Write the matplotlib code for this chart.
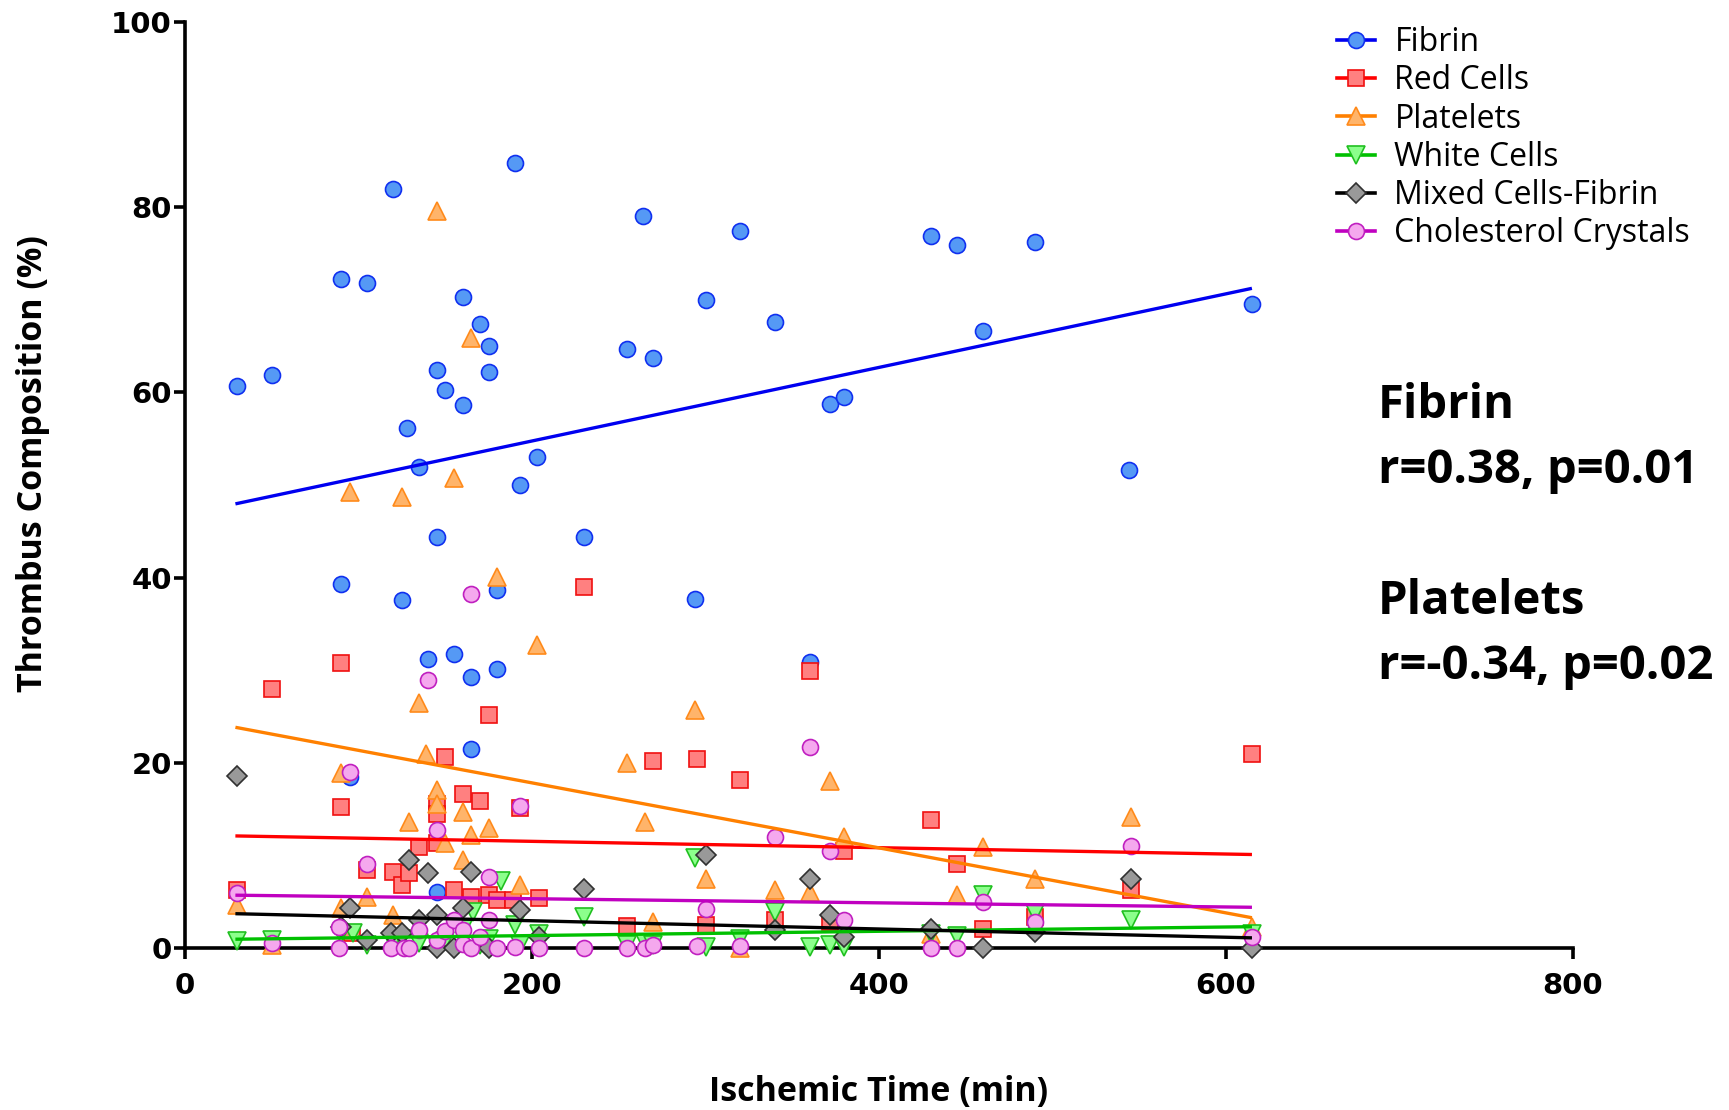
import matplotlib
matplotlib.use("Agg")
import matplotlib.pyplot as plt
from matplotlib.lines import Line2D

# ---------------- data ----------------
fibrin_x = [30, 50, 90, 90, 95, 105, 120, 125, 128, 135, 140, 145, 145, 145, 150, 155, 160, 160,
            165, 165, 170, 175, 175, 180, 180, 190, 193, 203, 230, 255, 264, 270, 294, 300, 320,
            340, 360, 372, 380, 430, 445, 460, 490, 544, 615]
fibrin_y = [60.7, 61.9, 72.2, 39.3, 18.5, 71.8, 82.0, 37.6, 56.2, 51.9, 31.2, 62.4, 44.4, 6.0,
            60.3, 31.7, 70.3, 58.6, 29.3, 21.5, 67.4, 65.0, 62.2, 38.7, 30.1, 84.8, 50.0, 53.0,
            44.4, 64.7, 79.1, 63.7, 37.7, 70.0, 77.4, 67.6, 30.9, 58.8, 59.5, 76.9, 75.9, 66.6,
            76.2, 51.6, 69.6]

red_x = [30, 50, 90, 90, 96, 105, 120, 125, 129, 135, 145, 145, 145, 150, 155, 160, 165, 170,
         175, 175, 180, 189, 193, 204, 230, 255, 270, 295, 300, 320, 340, 360, 372, 380, 430,
         445, 460, 490, 545, 615]
red_y = [6.3, 28.0, 30.8, 15.2, 1.6, 8.4, 8.2, 6.8, 8.1, 10.9, 15.6, 14.5, 11.3, 20.6, 6.3,
         16.6, 5.5, 15.9, 25.2, 5.7, 5.2, 5.2, 15.1, 5.4, 39.0, 2.4, 20.2, 20.4, 2.5, 18.1,
         3.0, 29.9, 2.8, 10.5, 13.8, 9.1, 2.1, 3.4, 6.3, 21.0]

plt_x = [30, 50, 90, 90, 95, 105, 120, 125, 129, 135, 139, 145, 145, 145, 150, 155, 160, 160,
         165, 165, 175, 180, 193, 203, 255, 265, 270, 294, 300, 320, 340, 360, 372, 380, 430,
         445, 460, 490, 545, 615]
plt_y = [4.6, 0.3, 18.9, 4.3, 49.2, 5.5, 3.6, 48.7, 13.6, 26.5, 21.0, 79.6, 17.1, 15.5, 11.3,
         50.8, 14.7, 9.5, 65.9, 12.2, 13.0, 40.1, 6.8, 32.7, 20.0, 13.6, 2.8, 25.7, 7.5, 0.0,
         6.3, 6.1, 18.0, 12.0, 1.5, 5.7, 10.9, 7.5, 14.1, 2.3]

wbc_x = [30, 50, 90, 97, 105, 120, 125, 135, 145, 150, 160, 166, 170, 175, 182, 190, 193, 204,
         230, 255, 265, 270, 294, 300, 320, 340, 360, 372, 380, 430, 445, 460, 490, 545, 615]
wbc_y = [0.8, 0.9, 1.5, 1.6, 0.3, 0.5, 1.0, 0.5, 0.3, 0.8, 2.0, 3.9, 0.3, 1.0, 7.2, 2.5, 0.3,
         1.5, 3.4, 0.3, 0.5, 0.3, 9.7, 0.1, 1.0, 3.9, 0.1, 0.3, 0.1, 1.5, 1.3, 5.7, 3.8, 3.0, 1.5]

mix_x = [30, 90, 95, 105, 119, 125, 129, 135, 140, 145, 145, 155, 160, 165, 175, 193, 204, 230,
         300, 340, 360, 372, 380, 430, 460, 490, 545, 615]
mix_y = [18.6, 2.3, 4.3, 0.9, 1.6, 1.6, 9.5, 3.0, 8.1, 3.6, 0.0, 0.0, 4.3, 8.2, 0.0, 4.1, 1.2,
         6.4, 10.0, 1.9, 7.4, 3.6, 1.2, 2.1, 0.0, 1.7, 7.4, 0.0]

chol_x = [30, 50, 89, 89, 95, 105, 119, 126, 129, 135, 140, 145, 145, 150, 155, 160, 160, 165,
          165, 170, 175, 175, 180, 190, 193, 204, 230, 255, 265, 270, 295, 300, 320, 340, 360,
          372, 380, 430, 445, 460, 490, 545, 615]
chol_y = [5.9, 0.5, 2.3, 0.0, 19.0, 9.1, 0.0, 0.0, 0.0, 1.9, 28.9, 12.7, 0.9, 1.8, 3.0, 1.9,
          0.4, 38.2, 0.0, 1.2, 7.7, 3.0, 0.0, 0.1, 15.3, 0.0, 0.0, 0.0, 0.0, 0.3, 0.2, 4.2, 0.2,
          12.0, 21.7, 10.5, 3.0, 0.0, 0.0, 5.0, 2.8, 11.0, 1.2]

# regression-line end points
fit_x = [30, 614]
fit_fibrin = [48.0, 71.2]
fit_red = [12.1, 10.1]
fit_plt = [23.8, 3.3]
fit_wbc = [0.95, 2.3]
fit_mix = [3.7, 1.1]
fit_chol = [5.7, 4.4]

labels = ["Fibrin", "Red Cells", "Platelets", "White Cells", "Mixed Cells-Fibrin",
          "Cholesterol Crystals"]

# ---------------- styling ----------------
series = [
    (fibrin_x, fibrin_y, fit_fibrin, "o", "#5599F5", "#1030F0", "#0000F0", 11.5),
    (red_x, red_y, fit_red, "s", "#FF8080", "#F01010", "#FF0000", 11.0),
    (plt_x, plt_y, fit_plt, "^", "#FFB46A", "#FF8A1A", "#FF8000", 12.5),
    (wbc_x, wbc_y, fit_wbc, "v", "#8CFF8C", "#20C020", "#00C000", 12.5),
    (mix_x, mix_y, fit_mix, "D", "#999999", "#303030", "#000000", 10.5),
    (chol_x, chol_y, fit_chol, "o", "#F5A8EE", "#C020C0", "#C000C0", 11.5),
]

W, H = 1729, 1110
fig = plt.figure(figsize=(W / 100, H / 100), dpi=100)
ax = fig.add_axes([185 / W, 1 - 948 / H, (1573 - 185) / W, (948 - 22) / H])

for i, (x, y, fit, m, fc, ec, lc, ms) in enumerate(series):
    ax.plot(x, y, linestyle="none", marker=m, markersize=ms, markerfacecolor=fc,
            markeredgecolor=ec, markeredgewidth=1.2, clip_on=False, zorder=3 + i * 0.1)
for i, (x, y, fit, m, fc, ec, lc, ms) in enumerate(series):
    ax.plot(fit_x, fit, color=lc, linewidth=2.4, zorder=4 + i * 0.1)

ax.set_xlim(0, 800)
ax.set_ylim(0, 100)
ax.set_xticks([0, 200, 400, 600, 800])
ax.set_yticks([0, 20, 40, 60, 80, 100])
for s in ["top", "right"]:
    ax.spines[s].set_visible(False)
for s in ["left", "bottom"]:
    ax.spines[s].set_linewidth(2.6)
    ax.spines[s].set_zorder(2)
ax.tick_params(axis="both", direction="out", length=8, width=2.6, labelsize=21)
ax.tick_params(axis="x", pad=9)
ax.tick_params(axis="y", pad=1.5)
for lab in ax.get_xticklabels() + ax.get_yticklabels():
    lab.set_fontweight("bold")
    lab.set_family("DejaVu Sans")

ax.set_xlabel("Ischemic Time (min)", fontsize=24.5, fontweight="bold", family="Open Sans")
ax.xaxis.label.set_va("center")
ax.xaxis.set_label_coords(0.5, -(1092 - 948) / 926)
ax.set_ylabel("Thrombus Composition (%)", fontsize=24.5, fontweight="bold", family="Open Sans")
ax.yaxis.label.set_va("center")
ax.yaxis.set_label_coords(-(185 - 33) / 1388, (948 - 464) / 926)

handles = []
for (x, y, fit, m, fc, ec, lc, ms), lab in zip(series, labels):
    handles.append(Line2D([], [], color=lc, linewidth=2.6, marker=m, markersize=ms,
                          markerfacecolor=fc, markeredgecolor=ec, markeredgewidth=1.2,
                          label=lab))
fig.legend(handles=handles, loc="upper left", bbox_to_anchor=(1337 / W, 1 - 26 / H),
           frameon=False, prop={"family": "Open Sans", "size": 23}, handlelength=1.2,
           handletextpad=0.6, labelspacing=0.165, borderpad=0, borderaxespad=0)

tkw = dict(fontsize=34, fontweight="bold", family="Open Sans", va="center", ha="left")
fig.text(1378 / W, 1 - 406 / H, "Fibrin", **tkw)
fig.text(1378 / W, 1 - 470 / H, "r=0.38, p=0.01", **tkw)
fig.text(1378 / W, 1 - 602 / H, "Platelets", **tkw)
fig.text(1378 / W, 1 - 666 / H, "r=-0.34, p=0.02", **tkw)

fig.savefig("out.png", dpi=100)
